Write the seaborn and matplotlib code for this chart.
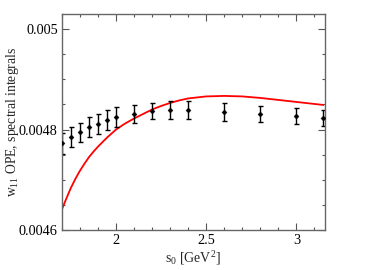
import matplotlib
matplotlib.use("Agg")
import matplotlib.pyplot as plt
import pandas as pd
import seaborn as sns
from matplotlib.ticker import MultipleLocator

# s0 values where spectral integrals are evaluated
s0 = [1.7, 1.75, 1.8, 1.85, 1.9, 1.95, 2.0, 2.1, 2.2, 2.3, 2.4, 2.6, 2.8, 3.0, 3.15]
spectral = [0.004773, 0.004786, 0.004795, 0.004805, 0.004812, 0.004819, 0.004825,
            0.004831, 0.004837, 0.004839, 0.004839, 0.004835, 0.004831, 0.004827, 0.004823]
spectral_err = [0.000021, 0.000020, 0.000019, 0.000020, 0.000020, 0.000019, 0.000019,
                0.000017, 0.000016, 0.000017, 0.000017, 0.000017, 0.000016, 0.000016, 0.000016]

ope_s0 = [1.7, 1.725, 1.75, 1.775, 1.8, 1.825, 1.85, 1.875, 1.9, 1.925, 1.95, 1.975,
          2.0, 2.05, 2.1, 2.15, 2.2, 2.25, 2.3, 2.35, 2.4, 2.5, 2.6, 2.7, 2.8, 2.9, 3.0, 3.15]
ope = [0.004641, 0.004663, 0.004684, 0.004702, 0.004718, 0.004732, 0.004745, 0.004756,
       0.004766, 0.004775, 0.004784, 0.004792, 0.004800, 0.004812, 0.004822, 0.004831,
       0.004840, 0.004847, 0.004853, 0.004858, 0.004862, 0.004866, 0.004867, 0.004866,
       0.004863, 0.004859, 0.004855, 0.004849]

pts = pd.DataFrame({"s0": s0, "spectral": spectral, "err": spectral_err})
curve = pd.DataFrame({"s0": ope_s0, "ope": ope})

sns.set_style("ticks")
plt.rcParams["font.family"] = ["Liberation Serif", "DejaVu Serif"]
plt.rcParams["mathtext.fontset"] = "custom"
plt.rcParams["mathtext.rm"] = "Liberation Serif"
plt.rcParams["mathtext.it"] = "Liberation Serif:italic"

fig = plt.figure(figsize=(3.82, 2.70), dpi=100)
ax = fig.add_axes([0.162, 0.148, 0.688, 0.800])

sns.lineplot(data=curve, x="s0", y="ope", color="red", lw=1.3, ax=ax)
ax.errorbar(pts["s0"], pts["spectral"], yerr=pts["err"], fmt="none",
            ecolor="black", elinewidth=1.0, capsize=1.8, capthick=1.0)
sns.scatterplot(data=pts, x="s0", y="spectral", marker="D", s=7, color="black",
                edgecolor="black", ax=ax, zorder=3)

ax.set_xlim(1.7, 3.157)
ax.set_ylim(0.0046, 0.00503)
ax.set_xticks([2, 2.5, 3])
ax.set_xticklabels(["2", "2.5", "3"])
ax.set_yticks([0.0046, 0.0048, 0.005])
ax.set_yticklabels(["0.0046", "0.0048", "0.005"])
ax.xaxis.set_minor_locator(MultipleLocator(0.1))
ax.yaxis.set_minor_locator(MultipleLocator(0.00005))

ax.tick_params(which="both", direction="in", top=True, right=True,
               labelsize=10.3, colors="#555555", labelcolor="black", width=0.8)
ax.tick_params(which="major", length=5, pad=3)
ax.tick_params(which="minor", length=2.5)
for sp in ax.spines.values():
    sp.set_color("#666666")
    sp.set_linewidth(1.0)

ax.set_xlabel(r"s$_0$ [GeV$^2$]", fontsize=10)
ax.set_ylabel(r"w$_{11}$ OPE, spectral integrals", fontsize=9.8)
ax.yaxis.set_label_coords(-0.155, 0.5)
ax.xaxis.set_label_coords(0.5, -0.09)
ax.xaxis.label.set_va("top")

fig.savefig("out.png", dpi=100)
